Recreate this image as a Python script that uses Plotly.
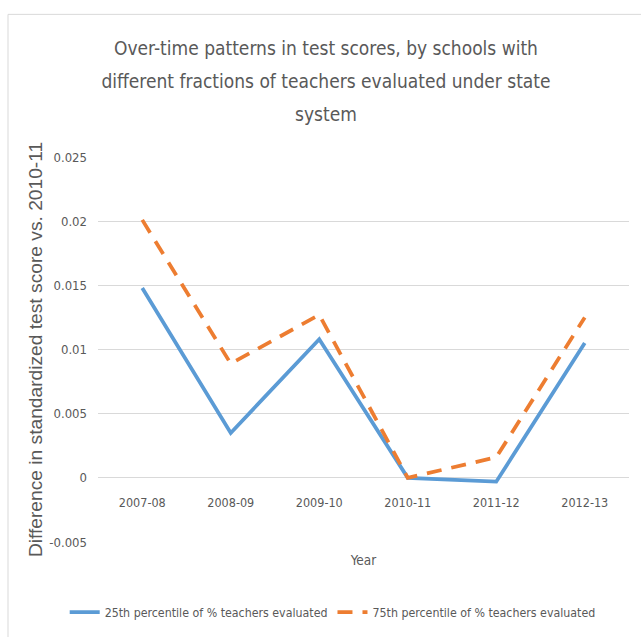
import plotly.graph_objects as go

years = ["2007-08", "2008-09", "2009-10", "2010-11", "2011-12", "2012-13"]
p25 = [0.0148, 0.0035, 0.0108, 0.0, -0.0003, 0.0105]
p75 = [0.0201, 0.0089, 0.0127, 0.0, 0.0016, 0.0125]
series_names = ["25th percentile of % teachers evaluated",
                "75th percentile of % teachers evaluated"]
y_tickvals = [-0.005, 0, 0.005, 0.01, 0.015, 0.02, 0.025]
y_ticktext = ["-0.005", "0", "0.005", "0.01", "0.015", "0.02", "0.025"]
title_lines = ["Over-time patterns in test scores, by schools with",
               "different fractions of teachers evaluated under state",
               "system"]
x_title = "Year"
y_title = "Difference in standardized test score vs. 2010-11"

COND = "DejaVu Sans Condensed, sans-serif"
GRAY = "#595959"

title_html = "<br>".join(f'<span style="font-size:19px">{t}</span>' for t in title_lines)

fig = go.Figure()
fig.add_trace(go.Scatter(x=years, y=p25, mode="lines", name=series_names[0],
                         line=dict(color="#5B9BD5", width=3.75)))
fig.add_trace(go.Scatter(x=years, y=p75, mode="lines", name=series_names[1],
                         line=dict(color="#ED7D31", width=3.75, dash="15px,10px")))

fig.update_layout(
    width=641, height=637,
    margin=dict(l=98, r=12, t=157, b=94),
    paper_bgcolor="white", plot_bgcolor="white",
    title=dict(text=title_html, x=326/641, xanchor="center",
               y=1 - 55/637, yanchor="middle", yref="container",
               font=dict(family=COND, size=25.5, color=GRAY)),
    showlegend=True,
    legend=dict(orientation="h", x=0.442, xanchor="center", y=-0.179, yanchor="middle",
                font=dict(family=COND, size=12.3, color=GRAY)),
    xaxis=dict(type="category", range=[-0.5, 5.5], anchor="free", position=1/6,
               automargin=False,
               showgrid=False, showline=False, zeroline=False, ticks="",
               ticklabelstandoff=16,
               tickfont=dict(family=COND, size=12.5, color=GRAY),
               title=dict(text=x_title, standoff=46,
                          font=dict(family=COND, size=13.5, color=GRAY))),
    yaxis=dict(range=[-0.005, 0.025], tickvals=y_tickvals, ticktext=y_ticktext,
               automargin=False,
               showgrid=True, gridcolor="#D9D9D9", gridwidth=1, zeroline=False,
               showline=False, ticks="", ticklabelstandoff=10,
               tickfont=dict(family=COND, size=13, color=GRAY),
               title=dict(text=y_title, standoff=1,
                          font=dict(family="Liberation Sans, Arial, sans-serif", size=19.2, color=GRAY))),
    shapes=[dict(type="rect", xref="paper", yref="paper",
                 x0=(8 - 98) / 531, x1=(660 - 98) / 531,
                 y0=(543 - 660) / 386, y1=(543 - 14) / 386,
                 line=dict(color="#D9D9D9", width=1), fillcolor="rgba(0,0,0,0)",
                 layer="below")],
)

fig.write_html("out.html", config={"displayModeBar": False},
               post_script="document.body.style.margin='0px';document.body.style.padding='0px';")
